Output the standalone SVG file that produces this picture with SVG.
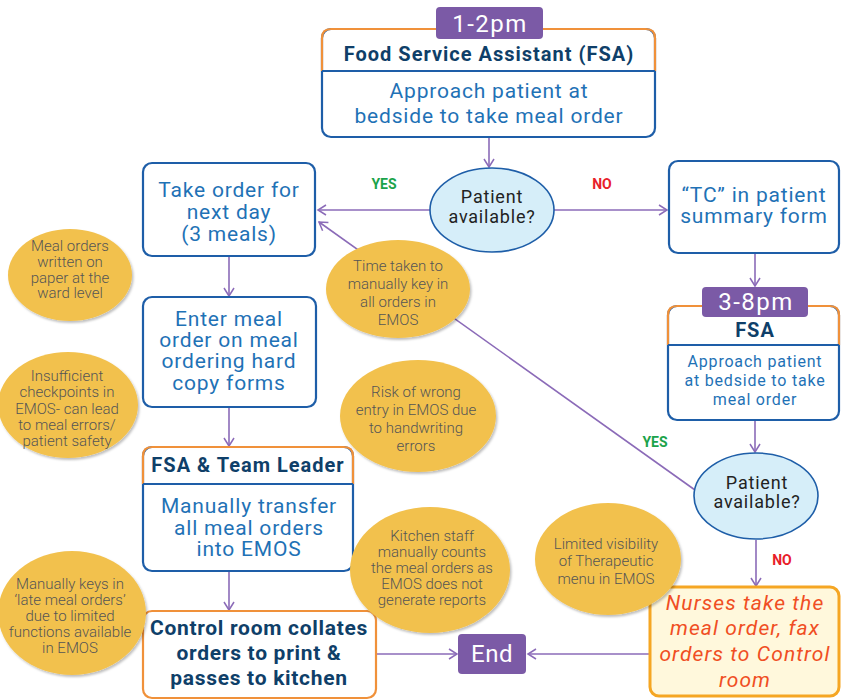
<svg xmlns="http://www.w3.org/2000/svg" width="841" height="700" viewBox="0 0 841 700">
<defs>
<marker id="arr" markerWidth="12" markerHeight="12" refX="9" refY="6" orient="auto" markerUnits="userSpaceOnUse">
<path d="M1,1 L9,6 L1,11" fill="none" stroke="#8b6bb8" stroke-width="1.5"/>
</marker>
<filter id="sh" x="-10%" y="-10%" width="125%" height="125%">
<feDropShadow dx="1.5" dy="2" stdDeviation="1.2" flood-color="#000" flood-opacity="0.25"/>
</filter>
</defs>
<style>
.conn{stroke:#8b6bb8;stroke-width:1.6;fill:none}
.bbox{fill:#fff;stroke:#1e5ea8;stroke-width:2.2}
.obox{fill:#fff;stroke:#f0913a;stroke-width:2.2}
.opath{fill:none;stroke:#f0913a;stroke-width:2.2}
.div{stroke:#1e5ea8;stroke-width:2.2}
.lab{fill:#7b5aa6}
.labt{font-family:Roboto,"Liberation Sans",sans-serif;font-size:24px;fill:#fff;text-anchor:middle;letter-spacing:1.5px}
.hd{font-family:Roboto,"Liberation Sans",sans-serif;font-weight:bold;fill:#0f3f69;text-anchor:middle;letter-spacing:1px}
.bt{font-family:Roboto,"Liberation Sans",sans-serif;fill:#1f72b6;text-anchor:middle;letter-spacing:0.8px}
.yel{fill:#f2c14e;filter:url(#sh)}
.yt{font-family:Roboto,"Liberation Sans",sans-serif;font-weight:300;font-size:15px;fill:#555;text-anchor:middle}
.dec{fill:#d6eef9;stroke:#1e5ea8;stroke-width:1.6}
.dt{font-family:Roboto,"Liberation Sans",sans-serif;font-size:18px;fill:#222;text-anchor:middle;letter-spacing:0.8px}
.yes{font-family:Roboto,"Liberation Sans",sans-serif;font-weight:bold;font-size:14px;fill:#1aa34a;text-anchor:middle}
.no{font-family:Roboto,"Liberation Sans",sans-serif;font-weight:bold;font-size:14px;fill:#e8202a;text-anchor:middle}
.nt{font-family:Roboto,"Liberation Sans",sans-serif;font-style:italic;font-size:21px;fill:#f04e23;text-anchor:middle;letter-spacing:1.1px}
</style>

<g id="connectors">
<line class="conn" x1="489" y1="137" x2="489" y2="167" marker-end="url(#arr)"/>
<line class="conn" x1="430" y1="210" x2="318" y2="210" marker-end="url(#arr)"/>
<line class="conn" x1="554" y1="210" x2="667" y2="210" marker-end="url(#arr)"/>
<line class="conn" x1="755" y1="253" x2="755" y2="286" marker-end="url(#arr)"/>
<line class="conn" x1="755" y1="420" x2="755" y2="452" marker-end="url(#arr)"/>
<line class="conn" x1="695" y1="490" x2="319" y2="222" marker-end="url(#arr)"/>
<line class="conn" x1="756" y1="540" x2="756" y2="586" marker-end="url(#arr)"/>
<line class="conn" x1="649" y1="654" x2="528" y2="654" marker-end="url(#arr)"/>
<line class="conn" x1="376" y1="654" x2="457" y2="654" marker-end="url(#arr)"/>
<line class="conn" x1="229" y1="257" x2="229" y2="296" marker-end="url(#arr)"/>
<line class="conn" x1="229" y1="407" x2="229" y2="446" marker-end="url(#arr)"/>
<line class="conn" x1="229" y1="571" x2="229" y2="610" marker-end="url(#arr)"/>
<text class="yes" x="384" y="189">YES</text>
<text class="no" x="602" y="189">NO</text>
<text class="yes" x="655" y="447">YES</text>
<text class="no" x="782" y="565">NO</text>
</g>

<g id="top-box">
<rect class="bbox" x="322" y="29" width="333" height="108" rx="9"/>
<path class="opath" d="M322,71 V38 Q322,29 331,29 H646 Q655,29 655,38 V71"/>
<line class="div" x1="322" y1="71" x2="655" y2="71"/>
<rect class="lab" x="436" y="7" width="107" height="32" rx="4"/>
<text class="labt" x="490" y="32">1-2pm</text>
<text class="hd" x="489" y="61" font-size="20">Food Service Assistant (FSA)</text>
<text class="bt" x="489" y="98" font-size="21">Approach patient at</text>
<text class="bt" x="489" y="123" font-size="21">bedside to take meal order</text>
</g>

<g id="decision1">
<ellipse class="dec" cx="492" cy="210" rx="62" ry="42"/>
<text class="dt" x="492" y="203">Patient</text>
<text class="dt" x="492" y="223">available?</text>
</g>

<g id="take-order">
<rect class="bbox" x="143" y="163" width="172" height="93" rx="9"/>
<text class="bt" x="229" y="197" font-size="21">Take order for</text>
<text class="bt" x="229" y="219" font-size="21">next day</text>
<text class="bt" x="229" y="241" font-size="21">(3 meals)</text>
</g>

<g id="tc-box">
<rect class="bbox" x="669" y="161" width="170" height="92" rx="9"/>
<text class="bt" x="754" y="202" font-size="21">“TC” in patient</text>
<text class="bt" x="754" y="223" font-size="21">summary form</text>
</g>

<g id="fsa-box">
<rect class="bbox" x="668" y="306" width="171" height="114" rx="9"/>
<path class="opath" d="M668,345 V315 Q668,306 677,306 H830 Q839,306 839,315 V345"/>
<line class="div" x1="668" y1="345" x2="839" y2="345"/>
<rect class="lab" x="702" y="287" width="106" height="30" rx="4"/>
<text class="labt" x="756" y="310">3-8pm</text>
<text class="hd" x="755" y="337" font-size="20">FSA</text>
<text class="bt" x="755" y="367" font-size="16">Approach patient</text>
<text class="bt" x="755" y="386" font-size="16">at bedside to take</text>
<text class="bt" x="755" y="405" font-size="16">meal order</text>
</g>

<g id="decision2">
<ellipse class="dec" cx="756" cy="496" rx="62" ry="43"/>
<text class="dt" x="757" y="489">Patient</text>
<text class="dt" x="757" y="508">available?</text>
</g>

<g id="nurses">
<rect x="650" y="587" width="189" height="109" rx="9" fill="#fff8dc" stroke="#f5a623" stroke-width="3"/>
<text class="nt" x="745" y="610">Nurses take the</text>
<text class="nt" x="745" y="635">meal order, fax</text>
<text class="nt" x="745" y="661">orders to Control</text>
<text class="nt" x="745" y="687">room</text>
</g>

<g id="end">
<rect class="lab" x="458" y="634" width="68" height="40" rx="4"/>
<text class="labt" x="492" y="662" font-size="21" style="letter-spacing:0.5px">End</text>
</g>

<g id="enter-meal">
<rect class="bbox" x="143" y="297" width="173" height="110" rx="9"/>
<text class="bt" x="229" y="326" font-size="21">Enter meal</text>
<text class="bt" x="229" y="347" font-size="21">order on meal</text>
<text class="bt" x="229" y="368" font-size="21">ordering hard</text>
<text class="bt" x="229" y="390" font-size="21">copy forms</text>
</g>

<g id="fsa-team">
<rect class="bbox" x="143" y="447" width="210" height="124" rx="9"/>
<path class="opath" d="M143,484 V456 Q143,447 152,447 H344 Q353,447 353,456 V484"/>
<line class="div" x1="143" y1="484" x2="353" y2="484"/>
<text class="hd" x="248" y="472" font-size="20">FSA &amp; Team Leader</text>
<text class="bt" x="249" y="513" font-size="21">Manually transfer</text>
<text class="bt" x="249" y="535" font-size="21">all meal orders</text>
<text class="bt" x="249" y="556" font-size="21">into EMOS</text>
</g>

<g id="control-room">
<rect class="obox" x="143" y="611" width="233" height="87" rx="9"/>
<text class="hd" x="259" y="635" font-size="21" style="letter-spacing:0.7px">Control room collates</text>
<text class="hd" x="259" y="660" font-size="21" style="letter-spacing:0.7px">orders to print &amp;</text>
<text class="hd" x="259" y="685" font-size="21" style="letter-spacing:0.7px">passes to kitchen</text>
</g>

<g id="note-paper">
<ellipse class="yel" cx="70" cy="275" rx="62" ry="46"/>
<text class="yt" x="70" y="251">Meal orders</text>
<text class="yt" x="70" y="267">written on</text>
<text class="yt" x="70" y="283">paper at the</text>
<text class="yt" x="70" y="298">ward level</text>
</g>

<g id="note-time">
<ellipse class="yel" cx="398" cy="289" rx="72" ry="49"/>
<text class="yt" x="398" y="271">Time taken to</text>
<text class="yt" x="398" y="289">manually key in</text>
<text class="yt" x="398" y="307">all orders in</text>
<text class="yt" x="398" y="325">EMOS</text>
</g>

<g id="note-checkpoints">
<ellipse class="yel" cx="68" cy="405" rx="70" ry="53"/>
<text class="yt" x="67" y="381">Insufficient</text>
<text class="yt" x="67" y="397">checkpoints in</text>
<text class="yt" x="67" y="414">EMOS- can lead</text>
<text class="yt" x="67" y="430">to meal errors/</text>
<text class="yt" x="67" y="446">patient safety</text>
</g>

<g id="note-risk">
<ellipse class="yel" cx="418" cy="416" rx="78" ry="56"/>
<text class="yt" x="416" y="397">Risk of wrong</text>
<text class="yt" x="416" y="415">entry in EMOS due</text>
<text class="yt" x="416" y="433">to handwriting</text>
<text class="yt" x="416" y="451">errors</text>
</g>

<g id="note-late">
<ellipse class="yel" cx="72" cy="613" rx="74" ry="62"/>
<text class="yt" x="70" y="589">Manually keys in</text>
<text class="yt" x="70" y="605">‘late meal orders’</text>
<text class="yt" x="70" y="621">due to limited</text>
<text class="yt" x="70" y="637">functions available</text>
<text class="yt" x="70" y="653">in EMOS</text>
</g>

<g id="note-kitchen">
<ellipse class="yel" cx="430" cy="570" rx="80" ry="63"/>
<text class="yt" x="432" y="541">Kitchen staff</text>
<text class="yt" x="432" y="557">manually counts</text>
<text class="yt" x="432" y="573">the meal orders as</text>
<text class="yt" x="432" y="589">EMOS does not</text>
<text class="yt" x="432" y="605">generate reports</text>
</g>

<g id="note-therapeutic">
<ellipse class="yel" cx="608" cy="559" rx="73" ry="56"/>
<text class="yt" x="606" y="549">Limited visibility</text>
<text class="yt" x="606" y="566">of Therapeutic</text>
<text class="yt" x="606" y="584">menu in EMOS</text>
</g>
</svg>
